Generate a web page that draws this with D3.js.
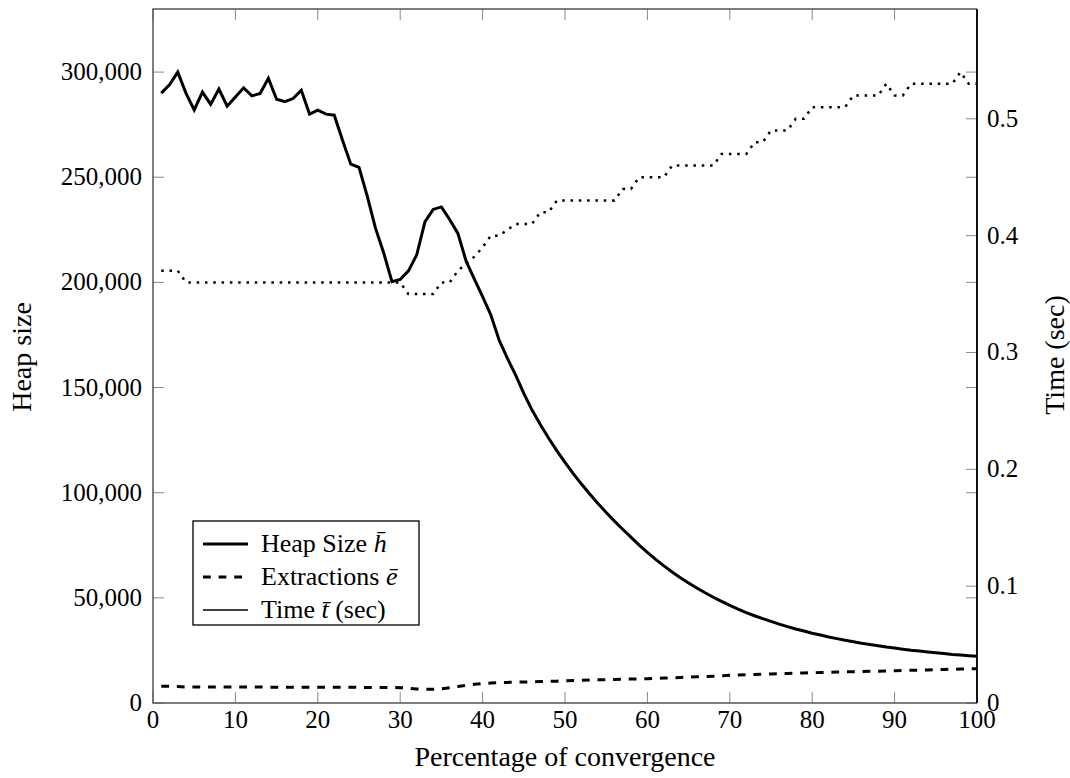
<!DOCTYPE html>
<html>
<head>
<meta charset="utf-8">
<script src="https://cdn.jsdelivr.net/npm/d3@7"></script>
<style>
  body { margin: 0; background: #fff; }
  text { font-family: "Liberation Serif", serif; fill: #000; }
</style>
</head>
<body>
<div id="chart"></div>
<script>
// percentage of convergence (x)
var pct = d3.range(1, 101);

// heap size h-bar
var heapSize = [
  290000, 294000, 300000, 290000, 282000, 290500, 284700, 291900, 283800, 288200,
  292500, 288700, 289800, 297000, 287100, 285900, 287400, 291400, 280000, 281900,
  280000, 279500, 267600, 256200, 254700, 241000, 225800, 214000, 200300, 201400,
  205500, 213000, 228800, 234700, 235900, 229900, 223300, 210100, 201600, 193200,
  184500, 172600, 164000, 156000, 147200, 139300, 132400, 126000, 120000, 114400,
  109100, 104100, 99400, 94900, 90600, 86500, 82600, 78900, 75100, 71600,
  68300, 65200, 62300, 59600, 57100, 54700, 52400, 50300, 48300, 46400,
  44600, 43000, 41500, 40100, 38800, 37500, 36300, 35200, 34200, 33200,
  32300, 31400, 30600, 29800, 29100, 28400, 27800, 27200, 26600, 26100,
  25600, 25100, 24700, 24300, 23900, 23500, 23100, 22800, 22500, 22200
];

// extractions e-bar
var extractions = [
  8000, 8000, 7900, 7600, 7600, 7600, 7600, 7600, 7600, 7600,
  7600, 7600, 7600, 7500, 7500, 7500, 7500, 7500, 7500, 7500,
  7500, 7500, 7500, 7500, 7400, 7400, 7400, 7400, 7400, 7300,
  7000, 6700, 6500, 6500, 6700, 7200, 7800, 8400, 8900, 9300,
  9500, 9700, 9800, 9900, 10000, 10100, 10200, 10300, 10400, 10600,
  10700, 10800, 10900, 11000, 11100, 11200, 11300, 11400, 11450, 11550,
  11700, 11850, 12000, 12150, 12300, 12450, 12600, 12750, 12950, 13150,
  13270, 13400, 13520, 13650, 13770, 13900, 14020, 14150, 14270, 14400,
  14500, 14600, 14700, 14800, 14900, 14950, 15050, 15150, 15250, 15350,
  15450, 15550, 15650, 15750, 15850, 15950, 16050, 16150, 16220, 16300
];

// time t-bar (sec)
var timeSec = [
  0.37, 0.37, 0.37, 0.36, 0.36, 0.36, 0.36, 0.36, 0.36, 0.36,
  0.36, 0.36, 0.36, 0.36, 0.36, 0.36, 0.36, 0.36, 0.36, 0.36,
  0.36, 0.36, 0.36, 0.36, 0.36, 0.36, 0.36, 0.36, 0.36, 0.36,
  0.35, 0.35, 0.35, 0.35, 0.36, 0.36, 0.37, 0.376, 0.382, 0.39,
  0.40, 0.40, 0.405, 0.41, 0.41, 0.41, 0.42, 0.42, 0.43, 0.43,
  0.43, 0.43, 0.43, 0.43, 0.43, 0.43, 0.44, 0.44, 0.45, 0.45,
  0.45, 0.45, 0.46, 0.46, 0.46, 0.46, 0.46, 0.46, 0.47, 0.47,
  0.47, 0.47, 0.48, 0.48, 0.49, 0.49, 0.49, 0.50, 0.50, 0.51,
  0.51, 0.51, 0.51, 0.51, 0.52, 0.52, 0.52, 0.52, 0.53, 0.52,
  0.52, 0.53, 0.53, 0.53, 0.53, 0.53, 0.53, 0.54, 0.53, 0.53
];

var xTicks = [0, 10, 20, 30, 40, 50, 60, 70, 80, 90, 100];
var heapTicks = [0, 50000, 100000, 150000, 200000, 250000, 300000];
var timeTicks = [0, 0.1, 0.2, 0.3, 0.4, 0.5];

var width = 1070, height = 778;
// plot box edges (note: "top" is a reserved window global, so use a prefix)
var boxL = 153, boxR = 977, boxT = 9, boxB = 703;
var tickLen = 11;

var svg = d3.select("#chart").append("svg")
  .attr("width", width)
  .attr("height", height);

var x = d3.scaleLinear().domain([0, 100]).range([boxL, boxR]);
var yHeap = d3.scaleLinear().domain([0, 330000]).range([boxB, boxT]);
var yTime = d3.scaleLinear().domain([0, 0.594]).range([boxB, boxT]);

var fmt = d3.format(",");

// ticks, all drawn inside the box
var tickG = svg.append("g").attr("stroke", "#8a8a8a").attr("stroke-width", 1);
xTicks.forEach(function(t) {
  tickG.append("line").attr("x1", x(t)).attr("x2", x(t)).attr("y1", boxB).attr("y2", boxB - tickLen);
  tickG.append("line").attr("x1", x(t)).attr("x2", x(t)).attr("y1", boxT).attr("y2", boxT + tickLen);
});
heapTicks.forEach(function(t) {
  tickG.append("line").attr("x1", boxL).attr("x2", boxL + tickLen).attr("y1", yHeap(t)).attr("y2", yHeap(t));
  tickG.append("line").attr("x1", boxR).attr("x2", boxR - tickLen).attr("y1", yHeap(t)).attr("y2", yHeap(t));
});
timeTicks.forEach(function(t) {
  tickG.append("line").attr("x1", boxR).attr("x2", boxR - tickLen).attr("y1", yTime(t)).attr("y2", yTime(t));
});

// tick labels
svg.append("g").selectAll("text").data(xTicks).enter().append("text")
  .attr("x", function(d) { return x(d); })
  .attr("y", boxB + 25)
  .attr("text-anchor", "middle")
  .style("font-size", "25px")
  .text(function(d) { return d; });

svg.append("g").selectAll("text").data(heapTicks).enter().append("text")
  .attr("x", boxL - 11)
  .attr("y", function(d) { return yHeap(d) + 8; })
  .attr("text-anchor", "end")
  .style("font-size", "25px")
  .text(function(d) { return fmt(d); });

svg.append("g").selectAll("text").data(timeTicks).enter().append("text")
  .attr("x", boxR + 10)
  .attr("y", function(d) { return yTime(d) + 8; })
  .attr("text-anchor", "start")
  .style("font-size", "25px")
  .text(function(d) { return d === 0 ? "0" : d3.format(".1f")(d); });

// axis titles
svg.append("text")
  .attr("x", (boxL + boxR) / 2)
  .attr("y", 766)
  .attr("text-anchor", "middle")
  .style("font-size", "28px")
  .text("Percentage of convergence");

svg.append("text")
  .attr("transform", "translate(31,357) rotate(-90)")
  .attr("text-anchor", "middle")
  .style("font-size", "28px")
  .text("Heap size");

svg.append("text")
  .attr("transform", "translate(1064,355) rotate(-90)")
  .attr("text-anchor", "middle")
  .style("font-size", "28px")
  .text("Time (sec)");

// series
var heapLine = d3.line()
  .x(function(d, i) { return x(pct[i]); })
  .y(function(d) { return yHeap(d); });
var timeLine = d3.line()
  .x(function(d, i) { return x(pct[i]); })
  .y(function(d) { return yTime(d); });

svg.append("path").datum(timeSec)
  .attr("d", timeLine)
  .attr("fill", "none")
  .attr("stroke", "#000")
  .attr("stroke-width", 2.5)
  .attr("stroke-dasharray", "2.5,5.8");

svg.append("path").datum(extractions)
  .attr("d", heapLine)
  .attr("fill", "none")
  .attr("stroke", "#000")
  .attr("stroke-width", 3)
  .attr("stroke-dasharray", "7.8,7.8");

svg.append("path").datum(heapSize)
  .attr("d", heapLine)
  .attr("fill", "none")
  .attr("stroke", "#000")
  .attr("stroke-width", 3)
  .attr("stroke-linejoin", "miter");

// frame
svg.append("path")
  .attr("d", "M" + boxR + "," + boxT + "H" + boxL + "V" + boxB + "H" + boxR)
  .attr("fill", "none")
  .attr("stroke", "#555")
  .attr("stroke-width", 1.5);
svg.append("line")
  .attr("x1", boxR).attr("x2", boxR).attr("y1", boxT).attr("y2", boxB)
  .attr("stroke", "#111")
  .attr("stroke-width", 2);

// legend
var legend = svg.append("g").attr("transform", "translate(193,521)");
legend.append("rect")
  .attr("width", 226).attr("height", 104)
  .attr("fill", "#fff")
  .attr("stroke", "#000")
  .attr("stroke-width", 1.3);

var legendItems = [
  { name: "Heap Size ", sym: "h\u0304", after: "", w: 3, dash: null },
  { name: "Extractions ", sym: "\u0113", after: "", w: 3, dash: "7.8,7.8" },
  { name: "Time ", sym: "t\u0304", after: " (sec)", w: 1.3, dash: null }
];
legendItems.forEach(function(it, i) {
  var cy = 23 + i * 33;
  legend.append("line")
    .attr("x1", 10).attr("x2", 55)
    .attr("y1", cy).attr("y2", cy)
    .attr("stroke", "#000")
    .attr("stroke-width", it.w)
    .attr("stroke-dasharray", it.dash);
  var t = legend.append("text")
    .attr("x", 68).attr("y", cy + 8)
    .style("font-size", "26px");
  t.append("tspan").text(it.name);
  t.append("tspan").style("font-style", "italic").text(it.sym);
  if (it.after) t.append("tspan").text(it.after);
});
</script>
</body>
</html>
